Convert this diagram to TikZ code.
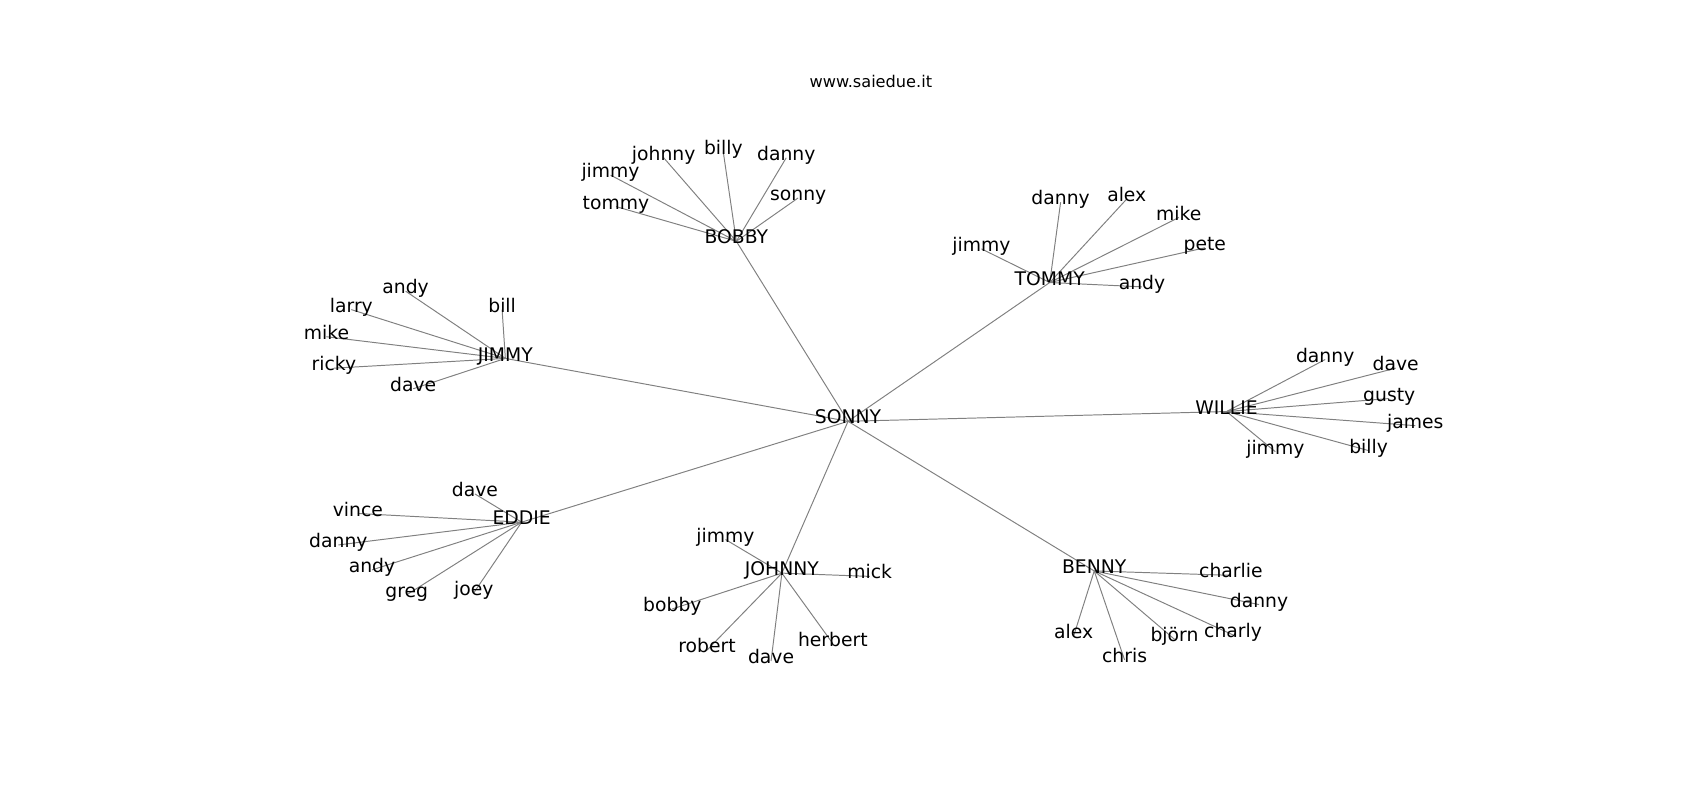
\documentclass[tikz,border=0pt]{standalone}
\usepackage{fontspec}
\setmainfont{DejaVu Sans}
\usetikzlibrary{backgrounds}
\begin{document}
\begin{tikzpicture}[x=1pt,y=-1pt,
  lbl/.style={inner sep=0pt,font=\fontsize{17.3}{20}\selectfont,text height=0.72em,text depth=0.24em,anchor=center},
  ttl/.style={inner sep=0pt,font=\fontsize{14.9}{18}\selectfont},
  edgeline/.style={draw=gray,line width=0.9pt}]
\useasboundingbox (0,0) rectangle (1567.6,737.7);
\node[ttl] (title) at (803,75) {www.saiedue.it};
\begin{scope}[shift={(0,2.5)}]
% hubs
\node[lbl] (S) at (782,386) {SONNY};
\node[lbl] (B) at (679,220) {BOBBY};
\node[lbl] (T) at (968,258) {TOMMY};
\node[lbl] (J) at (466,328) {JIMMY};
\node[lbl] (W) at (1131,377) {WILLIE};
\node[lbl] (E) at (481,479) {EDDIE};
\node[lbl] (H) at (721,526) {JOHNNY};
\node[lbl] (N) at (1009,524) {BENNY};
% BOBBY
\node[lbl] (b1) at (612,143) {johnny};
\node[lbl] (b2) at (667,138) {billy};
\node[lbl] (b3) at (725,143) {danny};
\node[lbl] (b4) at (563,159) {jimmy};
\node[lbl] (b5) at (736,180) {sonny};
\node[lbl] (b6) at (568,188) {tommy};
% TOMMY
\node[lbl] (t1) at (978,184) {danny};
\node[lbl] (t2) at (1039,181) {alex};
\node[lbl] (t3) at (1087,198) {mike};
\node[lbl] (t4) at (905,227) {jimmy};
\node[lbl] (t5) at (1111,226) {pete};
\node[lbl] (t6) at (1053,262) {andy};
% JIMMY
\node[lbl] (j1) at (374,266) {andy};
\node[lbl] (j2) at (463,283) {bill};
\node[lbl] (j3) at (324,283) {larry};
\node[lbl] (j4) at (301,308) {mike};
\node[lbl] (j5) at (308,337) {ricky};
\node[lbl] (j6) at (381,356) {dave};
% WILLIE
\node[lbl] (w1) at (1222,329) {danny};
\node[lbl] (w2) at (1287,337) {dave};
\node[lbl] (w3) at (1281,365) {gusty};
\node[lbl] (w4) at (1305,390) {james};
\node[lbl] (w5) at (1176,414) {jimmy};
\node[lbl] (w6) at (1262,413) {billy};
% EDDIE
\node[lbl] (e1) at (438,453) {dave};
\node[lbl] (e2) at (330,471) {vince};
\node[lbl] (e3) at (312,500) {danny};
\node[lbl] (e4) at (343,523) {andy};
\node[lbl] (e5) at (375,546) {greg};
\node[lbl] (e6) at (437,544) {joey};
% JOHNNY
\node[lbl] (h1) at (669,495) {jimmy};
\node[lbl] (h2) at (802,529) {mick};
\node[lbl] (h3) at (620,559) {bobby};
\node[lbl] (h4) at (652,597) {robert};
\node[lbl] (h5) at (711,607) {dave};
\node[lbl] (h6) at (768,591) {herbert};
% BENNY
\node[lbl] (n1) at (1135,528) {charlie};
\node[lbl] (n2) at (1161,555) {danny};
\node[lbl] (n3) at (990,584) {alex};
\node[lbl] (n4) at (1137,583) {charly};
\node[lbl] (n5) at (1037,606) {chris};
\node[lbl] (n6) at (1083,587) {björn};
\end{scope}
\begin{pgfonlayer}{background}
\foreach \h in {B,T,J,W,E,H,N} \draw[edgeline] (S.center) -- (\h.center);
\foreach \l in {b1,b2,b3,b4,b5,b6} \draw[edgeline] (B.center) -- (\l.center);
\foreach \l in {t1,t2,t3,t4,t5,t6} \draw[edgeline] (T.center) -- (\l.center);
\foreach \l in {j1,j2,j3,j4,j5,j6} \draw[edgeline] (J.center) -- (\l.center);
\foreach \l in {w1,w2,w3,w4,w5,w6} \draw[edgeline] (W.center) -- (\l.center);
\foreach \l in {e1,e2,e3,e4,e5,e6} \draw[edgeline] (E.center) -- (\l.center);
\foreach \l in {h1,h2,h3,h4,h5,h6} \draw[edgeline] (H.center) -- (\l.center);
\foreach \l in {n1,n2,n3,n4,n5,n6} \draw[edgeline] (N.center) -- (\l.center);
\end{pgfonlayer}
\end{tikzpicture}
\end{document}
